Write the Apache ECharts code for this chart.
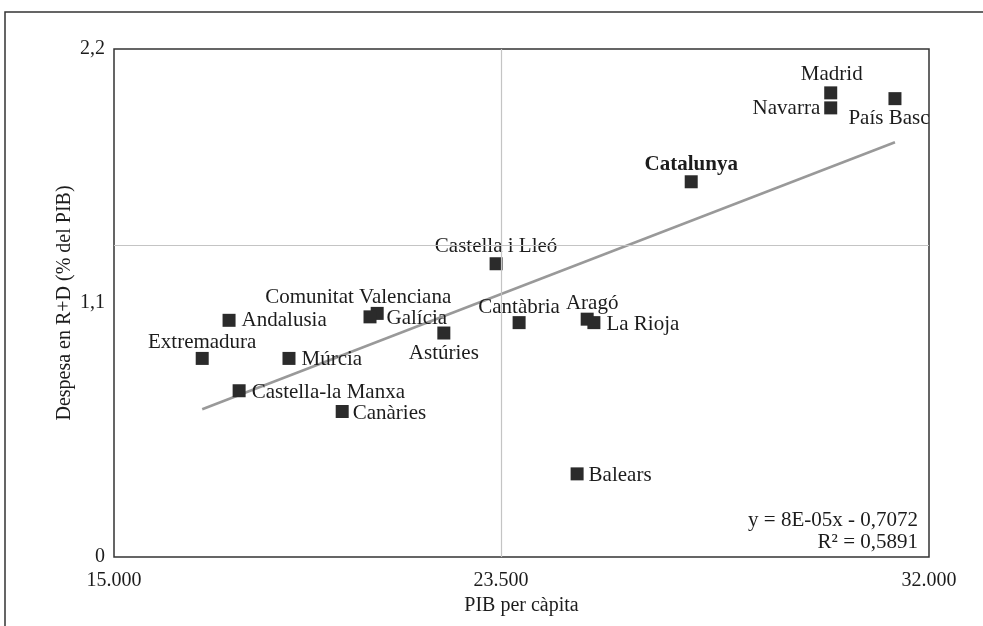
<!DOCTYPE html>
<html>
<head>
<meta charset="utf-8">
<script src="https://cdn.jsdelivr.net/npm/echarts@6/dist/echarts.min.js"></script>
<style>
html,body{margin:0;padding:0;background:#fff;}
#chart{width:983px;height:626px;}
</style>
</head>
<body>
<div id="chart"></div>
<script>
// ---- data ----
const regions = ['Madrid','Navarra','País Basc','Catalunya','Castella i Lleó','Comunitat Valenciana','Galícia','Andalusia','Extremadura','Múrcia','Castella-la Manxa','Canàries','Astúries','Cantàbria','Aragó','La Rioja','Balears'];
const pibPerCapita = [29950,29950,31290,27040,22970,20490,20340,17400,16840,18650,17610,19760,21880,23450,24870,25010,24660];
const rdPercent = [2.01,1.945,1.985,1.625,1.27,1.055,1.04,1.025,0.86,0.86,0.72,0.63,0.97,1.015,1.03,1.015,0.36];
const xTickValues = [15000, 23070, 32000];
const xTickLabels = ['15.000','23.500','32.000'];
const yTickLabels = ['0','1,1','2,2'];
const refX = 23070;   // vertical reference line
const refY = 1.353;   // horizontal reference line
const trendSlope = 0.00008;
const trendIntercept = -0.7072;
const trendX = [16840, 31290];
const equationText = ['y = 8E-05x - 0,7072', 'R² = 0,5891'];

// ---- label placement (style) ----
const labelPlace = {
  'Madrid': {position:'top', offset:[1,1]},
  'Navarra': {position:'left', offset:[-2,1]},
  'País Basc': {position:'bottom', offset:[-6,1]},
  'Catalunya': {position:'top', offset:[0,2], fontWeight:'bold'},
  'Castella i Lleó': {position:'top', offset:[0,2]},
  'Comunitat Valenciana': {position:'top', offset:[-19,3]},
  'Galícia': {position:'right', offset:[8,2]},
  'Andalusia': {position:'right', offset:[4,0]},
  'Extremadura': {position:'top', offset:[0,3]},
  'Múrcia': {position:'right', offset:[4,1]},
  'Castella-la Manxa': {position:'right', offset:[4,2]},
  'Canàries': {position:'right', offset:[2,2]},
  'Astúries': {position:'bottom', offset:[0,1]},
  'Cantàbria': {position:'top', offset:[0,4]},
  'Aragó': {position:'top', offset:[5,3]},
  'La Rioja': {position:'right', offset:[4,2]},
  'Balears': {position:'right', offset:[3,2]}
};

const FONT = "'Liberation Serif', 'DejaVu Serif', serif";
const TXT = '#1c1c1c';
const FS = 21;

const scatterData = regions.map((n, i) => {
  const p = labelPlace[n];
  return {
    name: n,
    value: [pibPerCapita[i], rdPercent[i]],
    label: {position: p.position, offset: p.offset, fontWeight: p.fontWeight || 'normal'}
  };
});
const trendData = trendX.map(x => [x, trendSlope * x + trendIntercept]);

const chart = echarts.init(document.getElementById('chart'), null, {renderer:'canvas'});
chart.setOption({
  animation: false,
  backgroundColor: '#fff',
  textStyle: {fontFamily: FONT},
  grid: {left: 114, right: 54, top: 49, bottom: 69, show: true, borderColor: '#333', borderWidth: 1.5, backgroundColor: 'transparent'},
  xAxis: {
    type: 'value', min: 15000, max: 32000,
    name: 'PIB per càpita', nameLocation: 'middle', nameGap: 39,
    nameTextStyle: {fontFamily: FONT, fontSize: FS - 1, color: TXT},
    axisLine: {show: false}, axisTick: {show: false}, splitLine: {show: false},
    axisLabel: {
      customValues: xTickValues,
      formatter: (v) => xTickLabels[xTickValues.indexOf(v)],
      fontFamily: FONT, fontSize: FS - 1, color: TXT, margin: 14, showMinLabel: true, showMaxLabel: true
    }
  },
  yAxis: {
    type: 'value', min: 0, max: 2.2, interval: 1.1,
    name: 'Despesa en R+D (% del PIB)', nameLocation: 'middle', nameGap: 39, nameRotate: 90,
    nameMoveOverlap: false,
    nameTextStyle: {fontFamily: FONT, fontSize: FS - 1, color: TXT},
    axisLine: {show: false}, axisTick: {show: false}, splitLine: {show: false},
    axisLabel: {
      formatter: (v) => yTickLabels[Math.round(v / 1.1)],
      fontFamily: FONT, fontSize: FS - 1, color: TXT, margin: 9
    }
  },
  series: [
    {
      type: 'line', data: trendData, showSymbol: false, symbol: 'none',
      lineStyle: {color: '#999', width: 2.5}, z: 2, silent: true,
      markLine: {
        silent: true, symbol: 'none', label: {show: false},
        lineStyle: {color: '#c4c4c4', width: 1.2, type: 'solid'},
        data: [{xAxis: refX}, {yAxis: refY}]
      }
    },
    {
      type: 'scatter', data: scatterData, symbol: 'rect', symbolSize: 13,
      itemStyle: {color: '#2b2b2b', opacity: 1}, z: 3,
      label: {show: true, formatter: '{b}', fontFamily: FONT, fontSize: FS, color: TXT, distance: 2}
    }
  ],
  graphic: [
    {type: 'rect', shape: {x: 5, y: 12, width: 1100, height: 800}, style: {fill: 'none', stroke: '#333', lineWidth: 1.5}, silent: true},
    {type: 'text', right: 65, top: 510, style: {text: equationText[0], font: FS + "px " + FONT, fill: TXT, textAlign: 'right'}},
    {type: 'text', right: 65, top: 532, style: {text: equationText[1], font: FS + "px " + FONT, fill: TXT, textAlign: 'right'}}
  ]
});
</script>
</body>
</html>
